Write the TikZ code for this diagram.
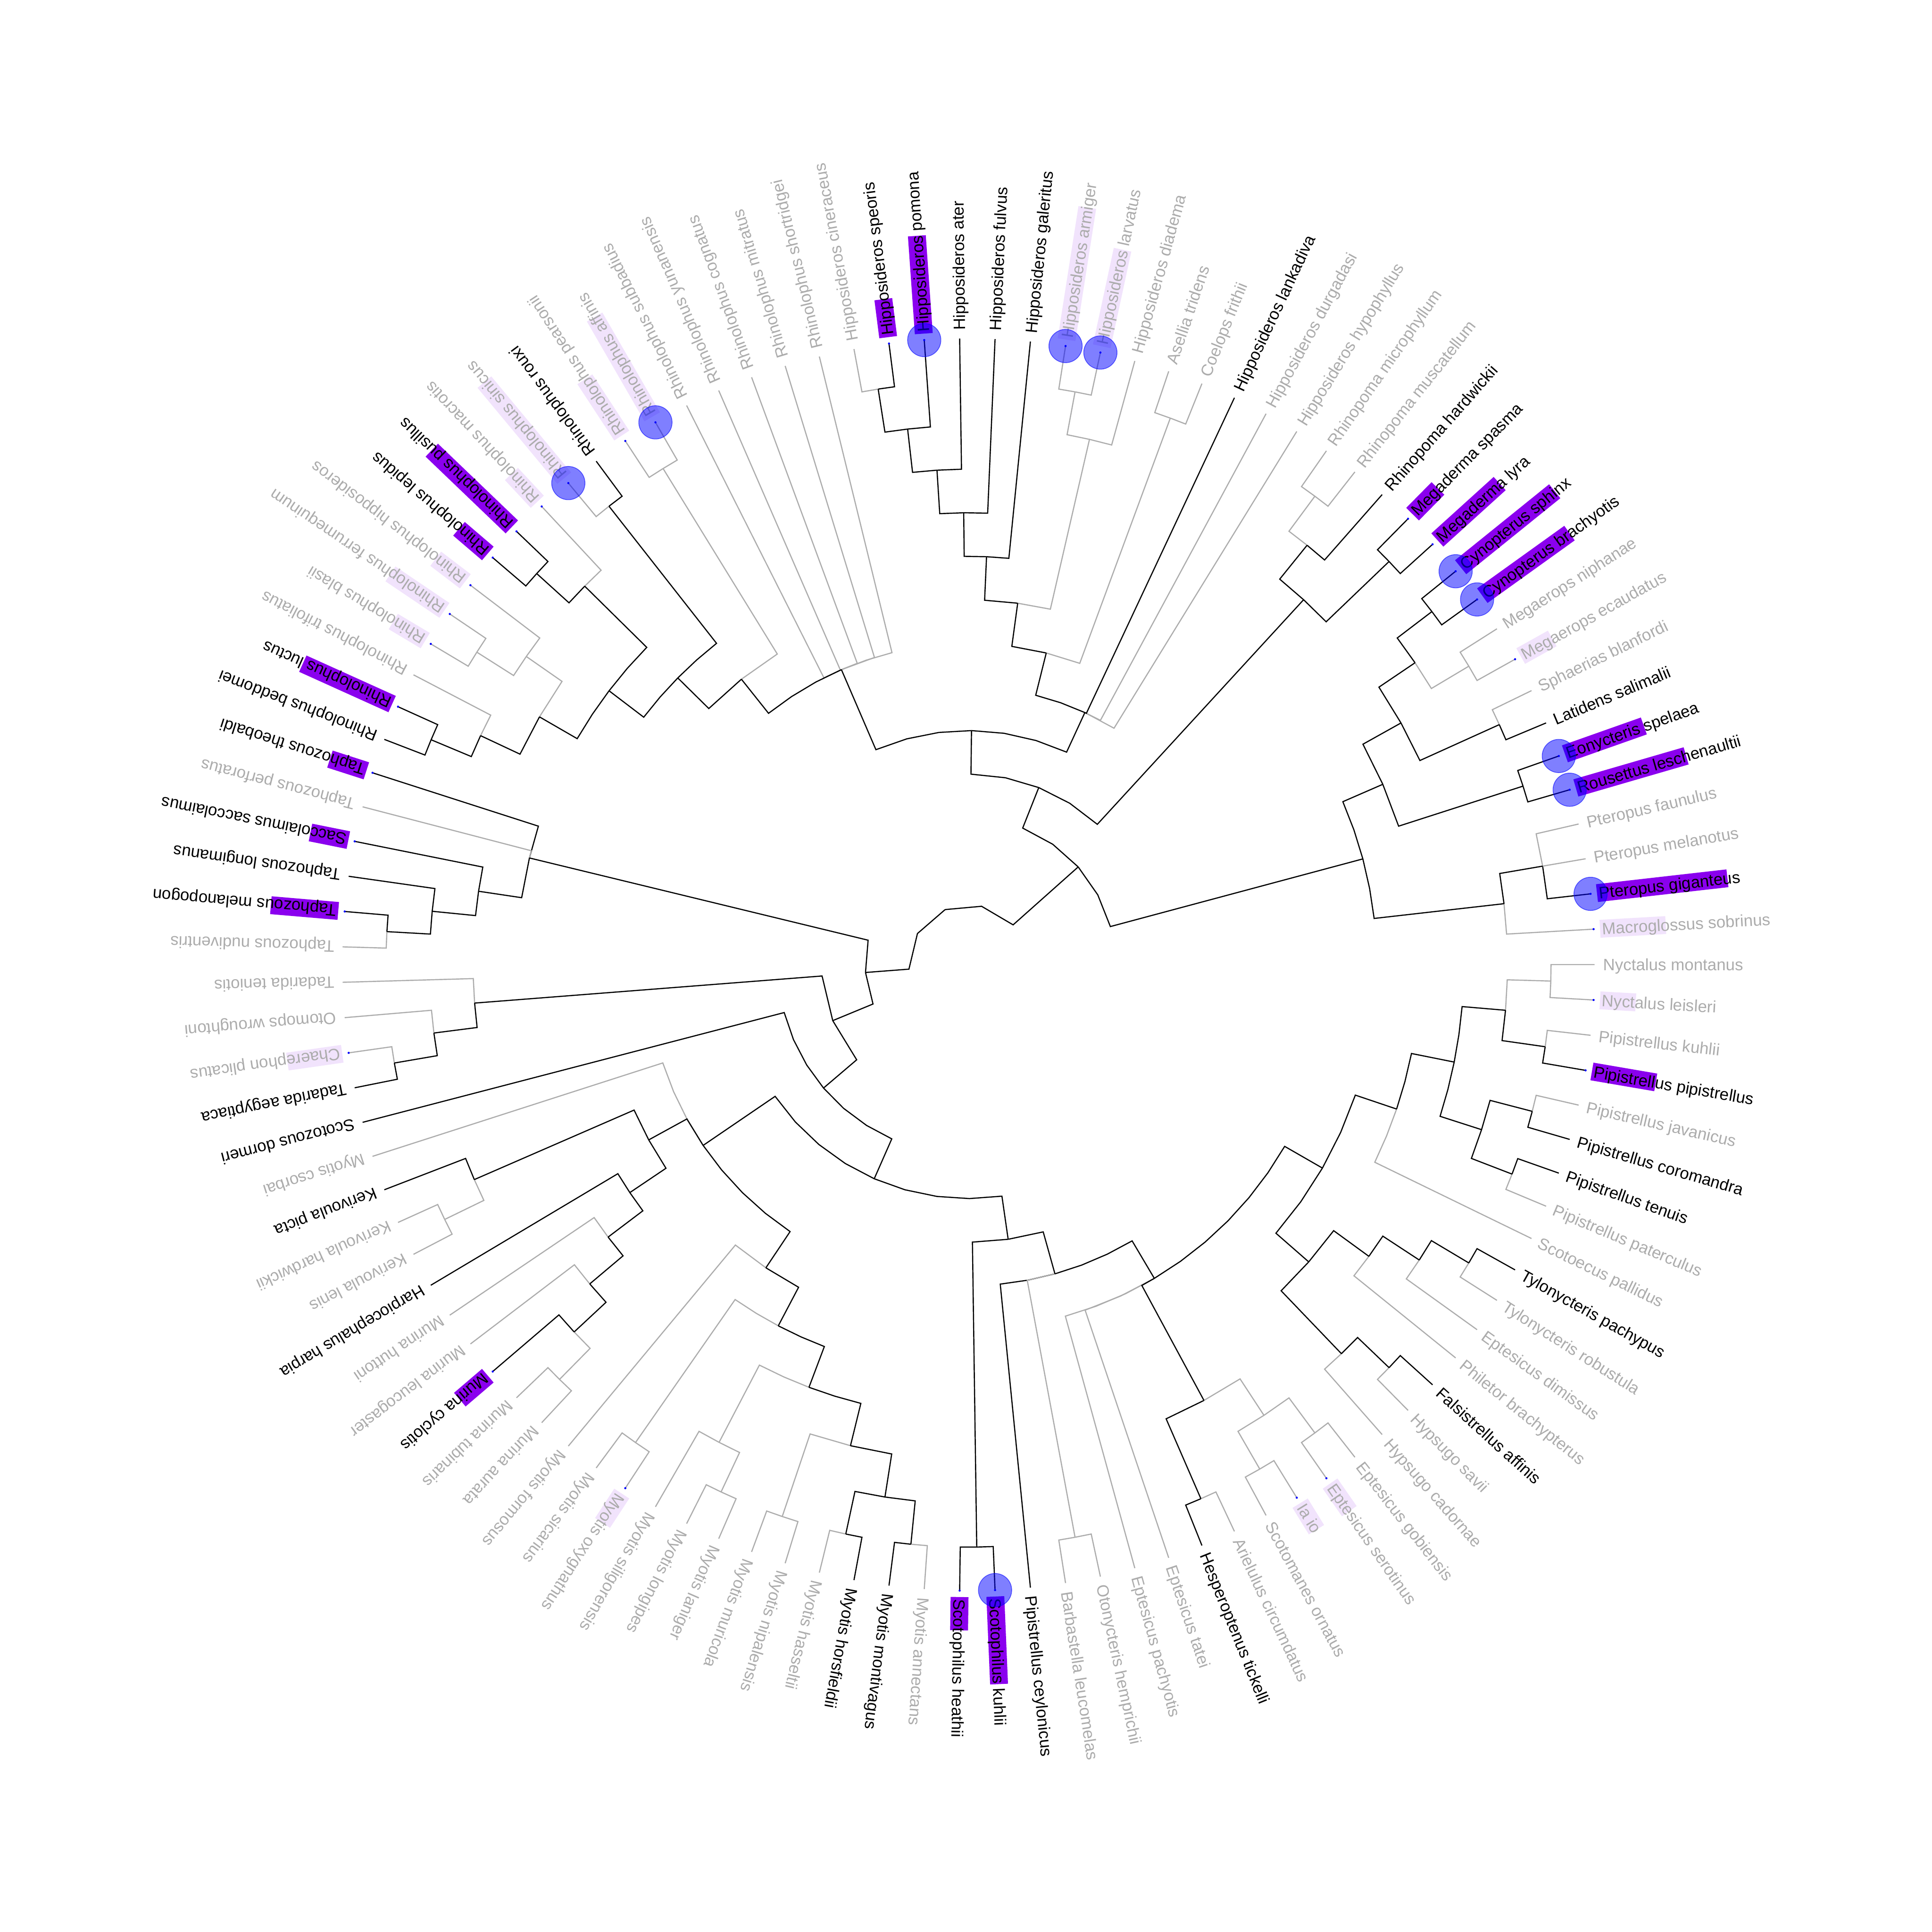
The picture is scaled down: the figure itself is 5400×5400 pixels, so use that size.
\documentclass[tikz,border=0pt]{standalone}
\usepackage{fontspec}
\setmainfont{Liberation Sans}
\definecolor{treegrey}{RGB}{172,172,172}
\definecolor{hlpurple}{RGB}{138,0,238}
\definecolor{hllight}{RGB}{241,227,252}
\pgfdeclarelayer{fore}
\pgfsetlayers{main,fore}

\begin{document}
\begin{tikzpicture}[x=0.1mm, y=0.1mm,
  edgek/.style={draw=black, line width=0.32mm},
  edgeg/.style={draw=treegrey, line width=0.32mm},
  tiplabel/.style={anchor=west, inner sep=0pt, text height=3.3mm, text depth=0pt,
    font=\fontsize{13.1pt}{16pt}\selectfont},
  txk/.style={text=black}, txg/.style={text=treegrey},
  hlk/.style={fill=hlpurple}, hlg/.style={fill=hllight},
  halostyle/.style={fill=blue, fill opacity=0.5, draw=blue, draw opacity=0.6, line width=0.2mm}]
  \useasboundingbox (-2707,-2704) rectangle (2693,2696);
  \def\tipr{1750}
  \def\levelr{121.77}
  \def\labr{1773}
  \newcommand{\taxon}[5]{%
    \pgfmathsetmacro\ta{-#2*3.2432432}%
    \expandafter\xdef\csname ang@#1\endcsname{\ta}%
    \expandafter\xdef\csname hgt@#1\endcsname{0}%
    \expandafter\xdef\csname col@#1\endcsname{#3}%
    \coordinate (#1) at (\ta:\tipr);
    \ifnum#4>0
      \fill[hl#3, rotate=\ta] (1768,-25) rectangle ++(#4,50);
      \begin{pgfonlayer}{fore}\fill[blue] (#1) circle[radius=0.3mm];\end{pgfonlayer}
    \fi
    \node[tiplabel, tx#3, rotate=\ta] (#1t) at (\ta:\labr) {#5};}
  \newcommand{\halo}[1]{\begin{pgfonlayer}{fore}\filldraw[halostyle] (#1) circle[radius=4.65mm];\end{pgfonlayer}}
  \newcommand{\clade}[2]{%
    \gdef\csum{0}\gdef\cnum{0}\gdef\chgt{0}\gdef\ccol{g}%
    \foreach \kid in {#2}{%
      \pgfmathsetmacro\cladetmp{\csum+\csname ang@\kid\endcsname}\global\let\csum\cladetmp
      \pgfmathsetmacro\cladetmp{\cnum+1}\global\let\cnum\cladetmp
      \pgfmathsetmacro\cladetmp{max(\chgt,\csname hgt@\kid\endcsname)}\global\let\chgt\cladetmp
      \if k\csname col@\kid\endcsname \gdef\ccol{k}\fi}%
    \pgfmathsetmacro\na{\csum/\cnum}%
    \pgfmathsetmacro\nh{\chgt+1}%
    \pgfmathsetmacro\nr{\tipr-\nh*\levelr}%
    \expandafter\xdef\csname ang@#1\endcsname{\na}%
    \expandafter\xdef\csname hgt@#1\endcsname{\nh}%
    \expandafter\xdef\csname col@#1\endcsname{\ccol}%
    \coordinate (#1) at (\na:\nr);
    \foreach \kid in {#2}{%
      \edef\ecol{edge\csname col@\kid\endcsname}%
      \edef\kang{\csname ang@\kid\endcsname}%
      \pgfmathtruncatemacro\nseg{max(1,round(abs(\kang-\na)*(\nr/5157)))}%
      \draw[\ecol] (#1) \foreach \seg in {1,...,\nseg}{ -- ({\na+(\kang-\na)*\seg/\nseg}:\nr)} -- (\kid);}}

  \taxon{Nmon}{0}{g}{0}{Nyctalus montanus}
  \taxon{Nlei}{1}{g}{100}{Nyctalus leisleri}
  \taxon{Pkuh}{2}{g}{0}{Pipistrellus kuhlii}
  \taxon{Ppip}{3}{k}{181}{Pipistrellus pipistrellus}
  \taxon{Pjav}{4}{g}{0}{Pipistrellus javanicus}
  \taxon{Pcor}{5}{k}{0}{Pipistrellus coromandra}
  \taxon{Pten}{6}{k}{0}{Pipistrellus tenuis}
  \taxon{Ppat}{7}{g}{0}{Pipistrellus paterculus}
  \taxon{Spal}{8}{g}{0}{Scotoecus pallidus}
  \taxon{Tpac}{9}{k}{0}{Tylonycteris pachypus}
  \taxon{Trob}{10}{g}{0}{Tylonycteris robustula}
  \taxon{Edim}{11}{g}{0}{Eptesicus dimissus}
  \taxon{Pbra}{12}{g}{0}{Philetor brachypterus}
  \taxon{Faff}{13}{k}{0}{Falsistrellus affinis}
  \taxon{Hsav}{14}{g}{0}{Hypsugo savii}
  \taxon{Hcad}{15}{g}{0}{Hypsugo cadornae}
  \taxon{Egob}{16}{g}{0}{Eptesicus gobiensis}
  \taxon{Eser}{17}{g}{94}{Eptesicus serotinus}
  \taxon{Iaio}{18}{g}{87}{Ia io}
  \taxon{Sorn}{19}{g}{0}{Scotomanes ornatus}
  \taxon{Acir}{20}{g}{0}{Arielulus circumdatus}
  \taxon{Htic}{21}{k}{0}{Hesperoptenus tickelli}
  \taxon{Etat}{22}{g}{0}{Eptesicus tatei}
  \taxon{Epac}{23}{g}{0}{Eptesicus pachyotis}
  \taxon{Ohem}{24}{g}{0}{Otonycteris hemprichii}
  \taxon{Bleu}{25}{g}{0}{Barbastella leucomelas}
  \taxon{Pcey}{26}{k}{0}{Pipistrellus ceylonicus}
  \taxon{Skuh}{27}{k}{245}{Scotophilus kuhlii}
  \taxon{Shea}{28}{k}{93}{Scotophilus heathii}
  \taxon{Mann}{29}{g}{0}{Myotis annectans}
  \taxon{Mmon}{30}{k}{0}{Myotis montivagus}
  \taxon{Mhor}{31}{k}{0}{Myotis horsfieldii}
  \taxon{Mhas}{32}{g}{0}{Myotis hasseltii}
  \taxon{Mnip}{33}{g}{0}{Myotis nipalensis}
  \taxon{Mmur}{34}{g}{0}{Myotis muricola}
  \taxon{Mlan}{35}{g}{0}{Myotis laniger}
  \taxon{Mlon}{36}{g}{0}{Myotis longipes}
  \taxon{Msil}{37}{g}{0}{Myotis siligorensis}
  \taxon{Moxy}{38}{g}{98}{Myotis oxygnathus}
  \taxon{Msic}{39}{g}{0}{Myotis sicarius}
  \taxon{Mfor}{40}{g}{0}{Myotis formosus}
  \taxon{Maur}{41}{g}{0}{Murina aurata}
  \taxon{Mtub}{42}{g}{0}{Murina tubinaris}
  \taxon{Mcyc}{43}{k}{103}{Murina cyclotis}
  \taxon{Mleu}{44}{g}{0}{Murina leucogaster}
  \taxon{Mhut}{45}{g}{0}{Murina huttoni}
  \taxon{Hhar}{46}{k}{0}{Harpiocephalus harpia}
  \taxon{Klen}{47}{g}{0}{Kerivoula lenis}
  \taxon{Khar}{48}{g}{0}{Kerivoula hardwickii}
  \taxon{Kpic}{49}{k}{0}{Kerivoula picta}
  \taxon{Mcso}{50}{g}{0}{Myotis csorbai}
  \taxon{Sdor}{51}{k}{0}{Scotozous dormeri}
  \taxon{Taeg}{52}{k}{0}{Tadarida aegyptiaca}
  \taxon{Cpli}{53}{g}{155}{Chaerephon plicatus}
  \taxon{Owro}{54}{g}{0}{Otomops wroughtoni}
  \taxon{Tten}{55}{g}{0}{Tadarida teniotis}
  \taxon{Tnud}{56}{g}{0}{Taphozous nudiventris}
  \taxon{Tmel}{57}{k}{189}{Taphozous melanopogon}
  \taxon{Tlon}{58}{k}{0}{Taphozous longimanus}
  \taxon{Ssac}{59}{k}{108}{Saccolaimus saccolaimus}
  \taxon{Tper}{60}{g}{0}{Taphozous perforatus}
  \taxon{Tthe}{61}{k}{107}{Taphozous theobaldi}
  \taxon{Rbed}{62}{k}{0}{Rhinolophus beddomei}
  \taxon{Rluc}{63}{k}{274}{Rhinolophus luctus}
  \taxon{Rtri}{64}{g}{0}{Rhinolophus trifoliatus}
  \taxon{Rbla}{65}{g}{104}{Rhinolophus blasii}
  \taxon{Rfer}{66}{g}{182}{Rhinolophus ferrumequinum}
  \taxon{Rhip}{67}{g}{104}{Rhinolophus hipposideros}
  \taxon{Rlep}{68}{k}{106}{Rhinolophus lepidus}
  \taxon{Rpus}{69}{k}{310}{Rhinolophus pusillus}
  \taxon{Rmac}{70}{g}{106}{Rhinolophus macrotis}
  \taxon{Rsin}{71}{g}{349}{Rhinolophus sinicus}
  \taxon{Rrou}{72}{k}{0}{Rhinolophus rouxi}
  \taxon{Rpea}{73}{g}{188}{Rhinolophus pearsonii}
  \taxon{Raff}{74}{g}{322}{Rhinolophus affinis}
  \taxon{Rsub}{75}{g}{0}{Rhinolophus subbadius}
  \taxon{Ryun}{76}{g}{0}{Rhinolophus yunanensis}
  \taxon{Rcog}{77}{g}{0}{Rhinolophus cognatus}
  \taxon{Rmit}{78}{g}{0}{Rhinolophus mitratus}
  \taxon{Rsho}{79}{g}{0}{Rhinolophus shortridgei}
  \taxon{Hcin}{80}{g}{0}{Hipposideros cineraceus}
  \taxon{Hspe}{81}{k}{107}{Hipposideros speoris}
  \taxon{Hpom}{82}{k}{274}{Hipposideros pomona}
  \taxon{Hate}{83}{k}{0}{Hipposideros ater}
  \taxon{Hful}{84}{k}{0}{Hipposideros fulvus}
  \taxon{Hgal}{85}{k}{0}{Hipposideros galeritus}
  \taxon{Harm}{86}{g}{374}{Hipposideros armiger}
  \taxon{Hlar}{87}{g}{276}{Hipposideros larvatus}
  \taxon{Hdia}{88}{g}{0}{Hipposideros diadema}
  \taxon{Atri}{89}{g}{0}{Asellia tridens}
  \taxon{Cfri}{90}{g}{0}{Coelops frithii}
  \taxon{Hlan}{91}{k}{0}{Hipposideros lankadiva}
  \taxon{Hdur}{92}{g}{0}{Hipposideros durgadasi}
  \taxon{Hhyp}{93}{g}{0}{Hipposideros hypophyllus}
  \taxon{Rmic}{94}{g}{0}{Rhinopoma microphyllum}
  \taxon{Rmus}{95}{g}{0}{Rhinopoma muscatellum}
  \taxon{Rhar}{96}{k}{0}{Rhinopoma hardwickii}
  \taxon{Mspa}{97}{k}{101}{Megaderma spasma}
  \taxon{Mlyr}{98}{k}{235}{Megaderma lyra}
  \taxon{Csph}{99}{k}{338}{Cynopterus sphinx}
  \taxon{Cbra}{100}{k}{300}{Cynopterus brachyotis}
  \taxon{Mgni}{101}{g}{0}{Megaerops niphanae}
  \taxon{Mgec}{102}{g}{101}{Megaerops ecaudatus}
  \taxon{Sbla}{103}{g}{0}{Sphaerias blanfordi}
  \taxon{Lsal}{104}{k}{0}{Latidens salimalii}
  \taxon{Espe}{105}{k}{234}{Eonycteris spelaea}
  \taxon{Rles}{106}{k}{321}{Rousettus leschenaultii}
  \taxon{Pfau}{107}{g}{0}{Pteropus faunulus}
  \taxon{Pmel}{108}{g}{0}{Pteropus melanotus}
  \taxon{Pgig}{109}{k}{367}{Pteropus giganteus}
  \taxon{Msob}{110}{g}{184}{Macroglossus sobrinus}

  \clade{V10b}{Nlei,Nmon}
  \clade{V10a}{Ppip,Pkuh}
  \clade{V10}{V10a,V10b}
  \clade{V9b}{Pcor,Pjav}
  \clade{V9a}{Ppat,Pten}
  \clade{V9}{V9a,V9b}
  \clade{V8}{V9,V10}
  \clade{V7}{Spal,V8}
  \clade{V6e}{Trob,Tpac}
  \clade{V6d}{Edim,V6e}
  \clade{V6b}{Pbra,V6d}
  \clade{V6c}{Hsav,Faff}
  \clade{V6a}{Hcad,V6c}
  \clade{V6}{V6a,V6b}
  \clade{V5}{V6,V7}
  \clade{Hw}{Eser,Egob}
  \clade{Hz}{Sorn,Iaio}
  \clade{Hy}{Hz,Hw}
  \clade{Hx}{Htic,Acir}
  \clade{Hg}{Hx,Hy}
  \clade{V4}{Epac,Etat,Hg,V5}
  \clade{Vg}{Bleu,Ohem}
  \clade{V3}{Pcey,Vg,V4}
  \clade{Scot}{Shea,Skuh}
  \clade{V2}{Scot,V3}
  \clade{Wf}{Mmon,Mann}
  \clade{We}{Mhas,Mhor}
  \clade{W5}{We,Wf}
  \clade{Wd}{Mmur,Mnip}
  \clade{W4}{Wd,W5}
  \clade{Wc}{Mlon,Mlan}
  \clade{Wb}{Msil,Wc}
  \clade{W3}{Wb,W4}
  \clade{Wa}{Msic,Moxy}
  \clade{W2}{Wa,W3}
  \clade{W}{Mfor,W2}
  \clade{Mur4}{Mtub,Maur}
  \clade{Mur3}{Mcyc,Mur4}
  \clade{Mur2}{Mleu,Mur3}
  \clade{Mur}{Mhut,Mur2}
  \clade{K3}{Hhar,Mur}
  \clade{K2}{Khar,Klen}
  \clade{K1}{Kpic,K2}
  \clade{K}{K1,K3}
  \clade{V1}{Mcso,K,W}
  \clade{N2}{V1,V2}
  \clade{N}{Sdor,N2}
  \clade{Mo3}{Cpli,Taeg}
  \clade{Mo2}{Owro,Mo3}
  \clade{Mo}{Tten,Mo2}
  \clade{M}{Mo,N}
  \clade{S3}{Tmel,Tnud}
  \clade{S2}{Tlon,S3}
  \clade{S}{Ssac,S2}
  \clade{T0}{Tthe,Tper,S}
  \clade{L}{T0,M}
  \clade{Q10}{Rluc,Rbed}
  \clade{Q7}{Rtri,Q10}
  \clade{Q9}{Rfer,Rbla}
  \clade{Q8}{Rhip,Q9}
  \clade{Q4}{Q8,Q7}
  \clade{Q6}{Rpus,Rlep}
  \clade{Q5}{Rmac,Q6}
  \clade{Q2}{Q5,Q4}
  \clade{Q3}{Rrou,Rsin}
  \clade{Q1}{Q3,Q2}
  \clade{Qpa}{Raff,Rpea}
  \clade{Q}{Qpa,Q1}
  \clade{P}{Rsho,Rmit,Rcog,Ryun,Rsub,Q}
  \clade{Zh7}{Hspe,Hcin}
  \clade{Zh6}{Hpom,Zh7}
  \clade{Zh5}{Hate,Zh6}
  \clade{Zh4}{Hful,Zh5}
  \clade{Zh3}{Hgal,Zh4}
  \clade{Zf2}{Hlar,Harm}
  \clade{Zf}{Hdia,Zf2}
  \clade{Zh2}{Zf,Zh3}
  \clade{Zg}{Cfri,Atri}
  \clade{Zh1}{Zg,Zh2}
  \clade{Zh}{Hhyp,Hdur,Hlan,Zh1}
  \clade{Z}{Zh,P}
  \clade{Rh2}{Rmus,Rmic}
  \clade{Rh}{Rhar,Rh2}
  \clade{Mg}{Mlyr,Mspa}
  \clade{RM}{Mg,Rh}
  \clade{Y}{RM,Z}
  \clade{Cyn}{Cbra,Csph}
  \clade{Meg}{Mgec,Mgni}
  \clade{Pf}{Meg,Cyn}
  \clade{Pg}{Lsal,Sbla}
  \clade{Pd}{Pg,Pf}
  \clade{Pe}{Rles,Espe}
  \clade{Pa}{Pe,Pd}
  \clade{Pc}{Pgig,Pmel,Pfau}
  \clade{Pb}{Msob,Pc}
  \clade{Pt}{Pb,Pa}
  \clade{Rt}{Pt,Y}
  \clade{root}{Rt,L}

  \halo{Raff} \halo{Rsin} \halo{Hpom} \halo{Harm} \halo{Hlar} \halo{Csph}
  \halo{Cbra} \halo{Espe} \halo{Rles} \halo{Pgig} \halo{Skuh}
\end{tikzpicture}
\end{document}
